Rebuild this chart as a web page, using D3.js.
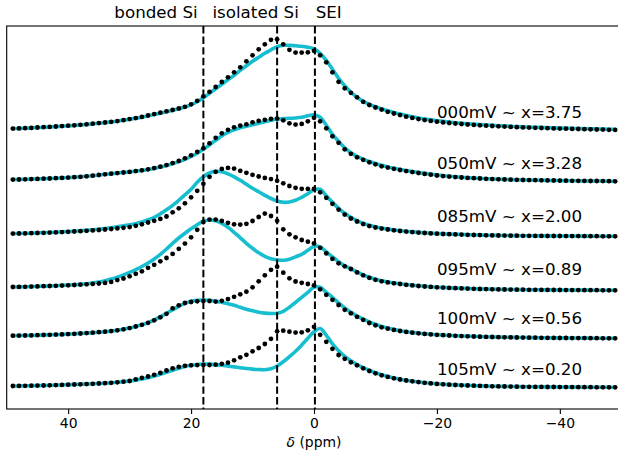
<!DOCTYPE html>
<html><head><meta charset="utf-8">
<script src="https://cdn.jsdelivr.net/npm/d3@7"></script>
<style>body{margin:0;background:#fff}svg{display:block}</style>
</head><body><svg id="c" width="618" height="455"></svg>
<script>
// chemical shift grid (ppm), one sample per ppm
const shifts = d3.range(49, -50, -1);
const xTicks = [40, 20, 0, -20, -40];
const regionNames = ["bonded Si", "isolated Si", "SEI"];
const regionLines = [18, 6, -0.15];
const regionLabelX = [25.7, 9.5, -2.4];
const traceLabels = ["000mV ~ x=3.75", "050mV ~ x=3.28", "085mV ~ x=2.00", "095mV ~ x=0.89", "100mV ~ x=0.56", "105mV ~ x=0.20"];
const traceOffsets = [257, 206, 151, 97, 49, 0];
const labelY = [269, 218, 165, 112, 63, 12];
const labelX = -20;

// measured spectra (dots) and fits (cyan), intensity in a.u. above each offset
const meas000 = [1.7,1.9,2.1,2.4,2.8,3.1,3.4,3.8,4.2,4.6, 5,5.5,6,6.6,7.2,7.8,8.5,9.2,10.1,11.2, 12.2,13.4,14.8,16.2,17.6,19,20.3,21.8,23.5,26, 29.5,34,38.5,43.3,48.3,53,58,63,69,75, 81,86,90.5,91,86,80.5,77.7,77.7,78,79.5, 75,68,58,48.5,42,37.5,33,28.5,25.3,22.8, 20.7,18.5,16.8,15.2,13.6,12.4,11.2,10.2,9.4,8.6, 7.9,7.3,6.8,6.3,5.8,5.4,5,4.6,4.3,4, 3.7,3.4,3.1,2.9,2.7,2.5,2.3,2.1,1.9,1.7, 1.6,1.4,1.3,1.1,1,0.8,0.7,0.5,0.4];
const fit000 = [1.7,1.9,2.1,2.4,2.7,3,3.3,3.7,4.1,4.5, 4.9,5.4,5.9,6.5,7.1,7.7,8.4,9.1,10,11, 12,13.2,14.5,15.8,17.2,18.6,20,21.5,23.3,25.5, 28.5,32.5,37,41.5,46,50.5,55,60,64.5,69, 73,77,80.5,83.5,85,85,84.5,84,83,81.5, 77,70,61,52,44.5,38,33,29,26,23.5, 21.5,19.5,17.8,16.2,14.8,13.5,12.3,11.3,10.4,9.6, 8.9,8.2,7.6,7.1,6.6,6.1,5.7,5.3,4.9,4.6, 4.3,4,3.7,3.4,3.2,3,2.8,2.6,2.4,2.2, 2.1,1.9,1.8,1.6,1.5,1.3,1.2,1.1,1];
const meas050 = [1.7,1.8,2,2.2,2.4,2.6,2.8,3.1,3.4,3.7, 4.1,4.5,5,5.6,6.3,7,7.6,8.2,8.8,9.4, 10.2,11,12,13.2,14.6,16.2,18.2,20.4,23,26, 29.5,33,38,43.5,48,51.5,54,55.7,57,59, 60.5,61.5,62.5,62.7,61,58,56.7,57.4,60,63.5, 60,53,45,38.5,32,27.5,24,21.5,19,17, 15,13.7,12.5,11.3,10.2,9.2,8.3,7.4,6.6,5.8, 5.2,4.7,4.2,3.8,3.4,3.1,2.8,2.5,2.2,2, 1.8,1.6,1.5,1.3,1.2,1.1,1,0.9,0.8,0.7, 0.6,0.5,0.5,0.4,0.3,0.3,0.2,0.1,0];
const fit050 = [1.7,1.8,2,2.2,2.4,2.6,2.8,3.1,3.4,3.7, 4.1,4.5,5,5.6,6.3,7,7.6,8.2,8.8,9.4, 10.1,10.9,11.8,12.9,14.2,15.8,17.6,19.7,22,24.8, 28,32,36.5,41,45.5,49,51.5,53.5,55,56.5, 58,59.5,61,62.3,62.7,63,63.3,64,65.5,66.5, 64,56,47,40,33.5,28.5,25,22.2,19.8,17.8, 16,14.4,13,11.8,10.7,9.7,8.8,7.9,7.1,6.3, 5.6,5,4.5,4,3.6,3.2,2.9,2.6,2.3,2.1, 1.9,1.7,1.5,1.4,1.2,1.1,1,0.9,0.8,0.7, 0.6,0.5,0.5,0.4,0.3,0.3,0.2,0.1,0];
const meas085 = [2.7,2.8,2.9,3.1,3.3,3.5,3.7,3.9,4.2,4.5, 4.8,5.1,5.5,5.9,6.3,6.8,7.3,7.9,8.5,9.2, 10.5,12,13.8,15.5,17.4,19.8,24,28,33,39, 45.5,52.5,59.5,64.5,67.4,68.4,67.7,65.5,63.5,61.5, 59.8,58.4,57.2,55.5,53,50.3,48.5,47.5,47.4,47.4, 44,38.5,32.5,26.7,21.7,17.8,14.8,12.2,10.2,8.8, 7.7,6.8,6,5.3,4.7,4.2,3.7,3.3,2.9,2.6, 2.3,2.1,1.9,1.7,1.5,1.3,1.2,1,0.9,0.8, 0.7,0.6,0.6,0.5,0.5,0.4,0.4,0.3,0.3,0.3, 0.2,0.2,0.2,0.1,0.1,0.1,0,0,0];
const fit085 = [2.7,2.8,3,3.2,3.4,3.6,3.8,4.1,4.4,4.7, 5.1,5.5,6,6.5,7.1,7.8,8.6,9.5,10.5,11.5, 12.5,14.3,16.5,19,22.5,26.5,31,36,41.5,47, 54,59.5,63.3,65,64.5,62.5,59.5,56,52,48, 44.5,41,37.8,35.3,34,34.3,36,39,42.5,46.5, 47,40.5,34,28,23,19,15.7,13,11,9.4, 8.2,7.2,6.3,5.6,5,4.4,3.9,3.5,3.1,2.8, 2.5,2.2,2,1.8,1.6,1.4,1.3,1.1,1,0.9, 0.8,0.7,0.6,0.6,0.5,0.5,0.4,0.4,0.3,0.3, 0.3,0.2,0.2,0.2,0.1,0.1,0.1,0,0];
const meas095 = [3.3,3.4,3.5,3.7,3.9,4.1,4.3,4.5,4.7,5, 5.3,5.6,6,6.4,6.8,7.4,8.4,10.2,11.8,14, 16.5,19,22.5,25.5,29,32.3,36.5,41.5,46.7,53, 60.5,68.3,70.7,70.7,69.3,67.5,66,65.7,66.5,69.3, 73.3,76.7,74.3,69.5,61,56,53,50.3,48.6,47, 42.5,37,31.5,27,24,21.3,17.9,15,12.5,10.5, 9,7.9,7,6.3,5.5,4.9,4.3,3.8,3.4,3, 2.7,2.4,2.1,1.9,1.7,1.5,1.3,1.2,1,0.9, 0.8,0.7,0.6,0.6,0.5,0.5,0.4,0.4,0.3,0.3, 0.2,0.2,0.2,0.1,0.1,0.1,0,0,0];
const fit095 = [3.3,3.4,3.5,3.7,3.9,4.1,4.3,4.6,4.9,5.2, 5.6,6,6.6,7.4,8.3,9.6,11.3,13.2,15.4,17.9, 20.7,23.8,27.3,31.3,36,41.3,47,52.3,57,61.5, 65.5,69,70.3,69.5,67,63,58,52.5,47,42, 37.5,34,31.5,30.5,30,31,33.5,36,40,44, 43.5,38.5,33.5,28.5,24.5,21.5,18.5,15.5,13,11, 9.5,8.3,7.3,6.5,5.8,5.1,4.5,4,3.5,3.1, 2.8,2.5,2.2,2,1.8,1.6,1.4,1.3,1.1,1, 0.9,0.8,0.7,0.6,0.6,0.5,0.5,0.4,0.4,0.3, 0.3,0.2,0.2,0.2,0.1,0.1,0,0,0];
const meas100 = [2.6,2.7,2.8,2.9,3.1,3.3,3.5,3.7,3.9,4.2, 4.5,4.8,5.2,5.6,6.1,6.6,7.2,8,9,10.2, 11.8,13.5,15.5,18,21,24.5,30,33,35.3,36.3, 37,37.3,37.3,36.7,37.5,39.2,41.5,44,46.6,51, 57,63,68.5,71.6,65.6,60,56.8,55.5,54.3,53, 49,43.5,38.5,33.3,28.5,25,21.5,18.5,15.3,13, 11,9.6,8.4,7.3,6.4,5.6,5,4.4,3.9,3.5, 3.1,2.8,2.5,2.2,2,1.8,1.6,1.4,1.3,1.1, 1,0.9,0.8,0.7,0.6,0.6,0.5,0.4,0.4,0.3, 0.3,0.2,0.2,0.2,0.1,0.1,0,0,0];
const fit100 = [2.6,2.7,2.8,2.9,3.1,3.3,3.5,3.7,3.9,4.2, 4.5,4.8,5.2,5.6,6.1,6.6,7.2,8,9,10.2, 11.8,13.5,15.7,18.3,21.5,25,28.5,32,35,37, 38,38.3,38,37,36,34.5,33,31,29,27.5, 26,25.2,24.8,25,27,31,36,41,46,51, 51,46,41,35.5,30.5,26,22.3,19.2,16.4,14, 11.9,10.2,8.8,7.6,6.6,5.8,5.1,4.5,4,3.6, 3.2,2.9,2.6,2.3,2.1,1.9,1.7,1.5,1.3,1.2, 1.1,1,0.9,0.8,0.7,0.6,0.5,0.5,0.4,0.4, 0.3,0.3,0.2,0.2,0.1,0.1,0.1,0,0];
const meas105 = [1.3,1.4,1.5,1.6,1.7,1.8,2,2.2,2.4,2.6, 2.8,3,3.2,3.5,3.8,4.1,4.5,5,5.6,6.3, 8,9.5,10.8,12.5,14.5,16.8,19,20.5,21.5,22, 22.2,22.3,22.3,22.6,23.5,24.6,27,30,32.5,36, 39.3,43.3,48.5,56,56.6,55.6,54.7,55,57,60.5, 52.5,45.5,38.5,32.3,28.5,25,22,19,16.3,14, 12,10.4,9,7.8,6.8,6,5.2,4.5,3.9,3.4, 3,2.6,2.3,2,1.8,1.6,1.4,1.2,1,0.9, 0.8,0.7,0.6,0.5,0.5,0.4,0.4,0.3,0.3,0.2, 0.2,0.2,0.1,0.1,0.1,0,0,0,0];
const fit105 = [1.3,1.4,1.5,1.6,1.7,1.8,2,2.2,2.4,2.6, 2.8,3,3.2,3.5,3.8,4.1,4.5,5,5.6,6.3, 7.2,8.3,9.6,11.2,13,15,17,19,20.8,22, 22.8,23.3,23.2,22.7,22,21.2,20.4,19.6,18.8,18.2, 17.8,17.6,18.5,21.3,25.5,30.6,36,42.3,49,55.5, 58.8,52,43.5,36.5,31,26.5,22.8,19.6,16.8,14.5, 12.5,10.8,9.3,8.1,7,6.1,5.3,4.6,4,3.5, 3.1,2.7,2.4,2.1,1.9,1.7,1.5,1.3,1.1,1, 0.9,0.8,0.7,0.6,0.5,0.5,0.4,0.4,0.3,0.3, 0.2,0.2,0.2,0.1,0.1,0.1,0,0,0];

const measured = [meas000, meas050, meas085, meas095, meas100, meas105];
const fits = [fit000, fit050, fit085, fit095, fit100, fit105];

const svg = d3.select("#c");
const W = 618, H = 455;
const plot = {left: 6.7, right: 621.3, top: 26, bottom: 409};
const x = d3.scaleLinear().domain([50, -50]).range([plot.left, plot.right]);
const y = d3.scaleLinear().domain([-21.7, 361.3]).range([plot.bottom, plot.top]);

const FONT = "DejaVu Sans, sans-serif";
const cyan = "#17becf";

svg.append("rect").attr("width", W).attr("height", H).attr("fill", "#fff");

const g = svg.append("g");
const line = d3.line().x(d => x(d[0])).y(d => y(d[1])).curve(d3.curveCatmullRom.alpha(0.5));

// fitted curves
fits.forEach((f, i) => {
  const off = traceOffsets[i];
  const fitPts = shifts.map((s, k) => [s, f[k] + off]);
  g.append("path").attr("d", line(fitPts)).attr("fill", "none")
    .attr("stroke", cyan).attr("stroke-width", 3.6).attr("stroke-linejoin", "round");
});
// measured points
measured.forEach((m, i) => {
  const off = traceOffsets[i];
  g.append("g").selectAll("circle").data(shifts.map((s, k) => [s, m[k] + off]))
    .join("circle").attr("cx", d => x(d[0])).attr("cy", d => y(d[1])).attr("r", 2.4).attr("fill", "#000");
});

// region lines
regionLines.forEach(v => {
  svg.append("line").attr("x1", x(v)).attr("x2", x(v)).attr("y1", plot.top).attr("y2", plot.bottom)
    .attr("stroke", "#000").attr("stroke-width", 2).attr("stroke-dasharray", "7.4,3.2");
});

// trace labels
traceLabels.forEach((t, i) => {
  svg.append("text").attr("x", x(labelX)).attr("y", y(labelY[i]))
    .attr("font-family", FONT).attr("font-size", 16.7).attr("fill", "#000").text(t);
});

// region labels
regionNames.forEach((t, i) => {
  svg.append("text").attr("x", x(regionLabelX[i])).attr("y", 18.3).attr("text-anchor", "middle")
    .attr("font-family", FONT).attr("font-size", 16.7).attr("fill", "#000").text(t);
});

// frame
svg.append("rect").attr("x", plot.left).attr("y", plot.top)
  .attr("width", plot.right - plot.left).attr("height", plot.bottom - plot.top)
  .attr("fill", "none").attr("stroke", "#000").attr("stroke-width", 1.1);

// x axis
const ax = svg.append("g").attr("transform", `translate(0,${plot.bottom})`)
  .call(d3.axisBottom(x).tickValues(xTicks).tickSize(4.9).tickPadding(4.2)
    .tickFormat(d => d < 0 ? "\u2212" + Math.abs(d) : String(d)));
ax.select(".domain").remove();
ax.selectAll(".tick line").attr("stroke", "#000").attr("stroke-width", 1.1);
ax.selectAll(".tick text").attr("font-family", FONT).attr("font-size", 13.9).attr("fill", "#000");

const xl = svg.append("text").attr("x", (plot.left + plot.right) / 2).attr("y", 446.7)
  .attr("text-anchor", "middle").attr("font-family", FONT).attr("font-size", 13.9).attr("fill", "#000");
xl.append("tspan").attr("font-style", "italic").text("δ");
xl.append("tspan").text(" (ppm)");
</script></body></html>
